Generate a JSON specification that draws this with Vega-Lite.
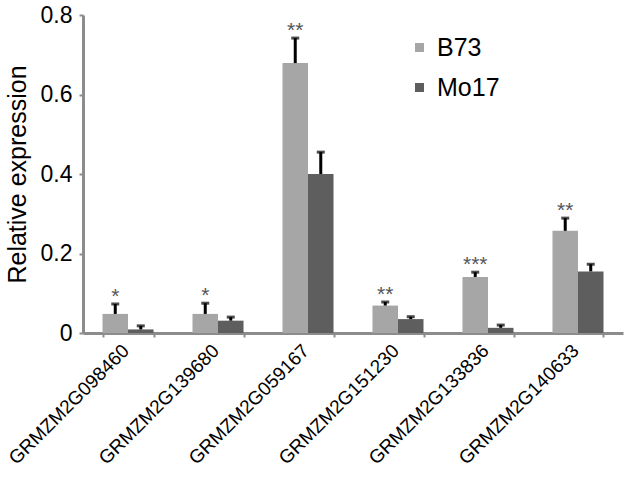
{
  "$schema": "https://vega.github.io/schema/vega-lite/v6.json",
  "width": 540,
  "height": 318,
  "autosize": "none",
  "padding": {"left": 83, "top": 15, "right": 7, "bottom": 144},
  "background": "white",
  "config": {"view": {"stroke": null}, "font": "Liberation Sans"},
  "data": {"values": [
    {"gene": "GRMZM2G098460", "line": "B73", "value": 0.048, "err": 0.073, "star": "*"},
    {"gene": "GRMZM2G098460", "line": "Mo17", "value": 0.009, "err": 0.018, "star": ""},
    {"gene": "GRMZM2G139680", "line": "B73", "value": 0.048, "err": 0.075, "star": "*"},
    {"gene": "GRMZM2G139680", "line": "Mo17", "value": 0.031, "err": 0.04, "star": ""},
    {"gene": "GRMZM2G059167", "line": "B73", "value": 0.679, "err": 0.742, "star": "**"},
    {"gene": "GRMZM2G059167", "line": "Mo17", "value": 0.4, "err": 0.455, "star": ""},
    {"gene": "GRMZM2G151230", "line": "B73", "value": 0.069, "err": 0.078, "star": "**"},
    {"gene": "GRMZM2G151230", "line": "Mo17", "value": 0.035, "err": 0.041, "star": ""},
    {"gene": "GRMZM2G133836", "line": "B73", "value": 0.141, "err": 0.153, "star": "***"},
    {"gene": "GRMZM2G133836", "line": "Mo17", "value": 0.013, "err": 0.02, "star": ""},
    {"gene": "GRMZM2G140633", "line": "B73", "value": 0.257, "err": 0.289, "star": "**"},
    {"gene": "GRMZM2G140633", "line": "Mo17", "value": 0.155, "err": 0.173, "star": ""}
  ]},
  "encoding": {
    "x": {"field": "gene", "type": "nominal", "sort": null,
      "scale": {"paddingInner": 0.433, "paddingOuter": 0.2167},
      "axis": {"title": null, "labelAngle": -45, "labelFontSize": 19, "labelColor": "#000000",
        "domainColor": "#8c8c8c", "domainWidth": 3, "tickColor": "#8c8c8c", "tickWidth": 2, "tickSize": 4,
        "tickBand": "extent", "labelPadding": 4, "labelOffset": -9}},
    "xOffset": {"field": "line", "type": "nominal", "scale": {"paddingInner": 0, "paddingOuter": 0}}
  },
  "layer": [
    {
      "mark": {"type": "bar"},
      "encoding": {
        "y": {"field": "value", "type": "quantitative",
          "scale": {"domain": [0, 0.8]},
          "axis": {"title": "Relative expression", "titleFontSize": 25, "titleFontWeight": "normal", "titleColor": "#000000",
            "values": [0, 0.2, 0.4, 0.6, 0.8], "format": ".1~f", "grid": false,
            "labelFontSize": 23, "labelColor": "#000000", "labelPadding": 7,
            "domainColor": "#8c8c8c", "domainWidth": 3, "tickColor": "#8c8c8c", "tickWidth": 2, "tickSize": 4, "titlePadding": 10}},
        "color": {"field": "line", "type": "nominal",
          "scale": {"domain": ["B73", "Mo17"], "range": ["#a6a6a6", "#5e5e5e"]},
          "legend": {"title": null, "orient": "none", "legendX": 324, "legendY": 20,
            "symbolType": "square", "symbolSize": 81, "symbolStrokeWidth": 0, "labelFontSize": 25,
            "labelColor": "#000000", "rowPadding": 14, "labelOffset": 5}}
      }
    },
    {
      "mark": {"type": "rule", "color": "#000000", "strokeWidth": 3},
      "encoding": {"y": {"field": "value", "type": "quantitative"}, "y2": {"field": "err"}}
    },
    {
      "mark": {"type": "tick", "color": "#000000", "thickness": 3, "size": 8},
      "encoding": {"y": {"field": "err", "type": "quantitative"}}
    },
    {
      "mark": {"type": "text", "fontSize": 21, "color": "#555555", "baseline": "alphabetic", "dy": -1},
      "encoding": {"y": {"field": "err", "type": "quantitative"}, "text": {"field": "star"}}
    }
  ]
}
